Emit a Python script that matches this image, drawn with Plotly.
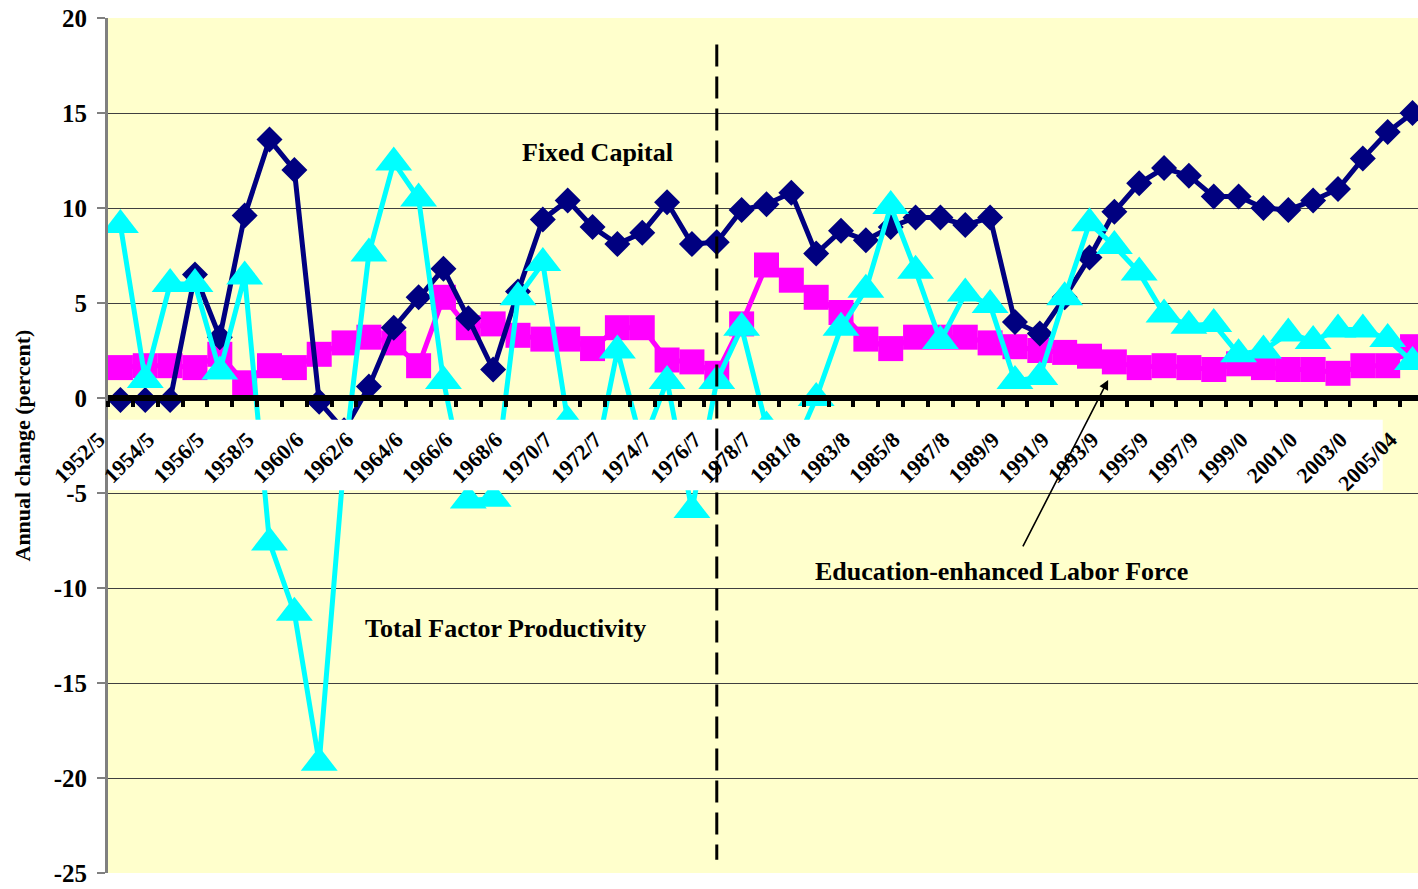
import plotly.graph_objects as go

# ---------------- data ----------------
categories = [
    "1952/53", "1953/54", "1954/55", "1955/56", "1956/57", "1957/58", "1958/59",
    "1959/60", "1960/61", "1961/62", "1962/63", "1963/64", "1964/65", "1965/66",
    "1966/67", "1967/68", "1968/69", "1969/70", "1970/71", "1971/72", "1972/73",
    "1973/74", "1974/75", "1975/76", "1976/77", "1977/78", "1978/79", "1979/80",
    "1981/82", "1982/83", "1983/84", "1984/85", "1985/86", "1986/87", "1987/88",
    "1988/89", "1989/90", "1990/91", "1991/92", "1992/93", "1993/94", "1994/95",
    "1995/96", "1996/97", "1997/98", "1998/99", "1999/00", "2000/01", "2001/02",
    "2002/03", "2003/04", "2004/05", "2005/06",
]

# labels shown on the axis (every other category, as they appear clipped)
tick_labels = [
    "1952/5", "1954/5", "1956/5", "1958/5", "1960/6", "1962/6", "1964/6",
    "1966/6", "1968/6", "1970/7", "1972/7", "1974/7", "1976/7", "1978/7",
    "1981/8", "1983/8", "1985/8", "1987/8", "1989/9", "1991/9", "1993/9",
    "1995/9", "1997/9", "1999/0", "2001/0", "2003/0", "2005/04",
]

fixed_capital = [
    -0.1, -0.1, -0.1, 6.5, 3.2, 9.6, 13.6, 12.0, -0.2, -1.7, 0.6, 3.7, 5.3,
    6.8, 4.2, 1.5, 5.6, 9.4, 10.4, 9.0, 8.1, 8.7, 10.3, 8.1, 8.2,
    9.9, 10.2, 10.8, 7.6, 8.8, 8.3, 9.0, 9.5, 9.5, 9.1, 9.5, 4.0, 3.4,
    5.3, 7.4, 9.8, 11.3, 12.1, 11.7, 10.6, 10.6, 10.0, 9.9, 10.4, 11.0, 12.6, 14.0, 15.0,
]

labor_force = [
    1.6, 1.7, 1.7, 1.6, 2.3, 0.8, 1.7, 1.6, 2.3, 2.9, 3.2, 2.9, 1.7,
    5.3, 3.7, 3.9, 3.3, 3.1, 3.1, 2.6, 3.7, 3.7, 2.0, 1.9, 1.3,
    3.9, 7.0, 6.2, 5.3, 4.5, 3.1, 2.6, 3.2, 3.2, 3.2, 2.9, 2.7, 2.5,
    2.4, 2.2, 1.9, 1.6, 1.7, 1.6, 1.5, 1.8, 1.6, 1.5, 1.5, 1.3, 1.7, 1.7, 2.7,
]

tfp = [
    9.1, 0.95, 6.0, 6.0, 1.4, 6.4, -7.6, -11.3, -19.2, -3.3, 7.6, 12.4, 10.5,
    0.9, -5.4, -5.3, 5.3, 7.1, -1.2, -4.0, 2.5, -2.5, 0.9, -5.9, 0.9,
    3.7, -1.5, -3.0, 0.0, 3.7, 5.7, 10.1, 6.7, 3.0, 5.5, 4.9, 0.9, 1.1,
    5.3, 9.2, 8.0, 6.6, 4.4, 3.8, 3.9, 2.3, 2.5, 3.4, 3.0, 3.6, 3.6, 3.1, 1.9,
]

y_ticks = [20, 15, 10, 5, 0, -5, -10, -15, -20, -25]
break_category = "1976/77"

# ---------------- styling ----------------
NAVY = "#000080"
MAGENTA = "#FF00FF"
CYAN = "#00FFFF"
BG = "#FFFFCC"
FONT = "Liberation Serif"

W, H = 1418, 889
ML, MR, MT, MB = 108, 0, 18, 16
X_RANGE = [-0.5, 52.22]
Y_RANGE = [-25, 20]

fig = go.Figure()

fig.add_trace(go.Scatter(
    x=categories, y=labor_force, mode="lines+markers",
    name="Education-enhanced Labor Force",
    line=dict(color=MAGENTA, width=5),
    marker=dict(symbol="square", size=25, color=MAGENTA, line=dict(width=0)),
))
fig.add_trace(go.Scatter(
    x=categories, y=fixed_capital, mode="lines+markers",
    name="Fixed Capital",
    line=dict(color=NAVY, width=5),
    marker=dict(symbol="diamond", size=20, color=NAVY, line=dict(width=0)),
))
fig.add_trace(go.Scatter(
    x=categories, y=tfp, mode="lines+markers",
    name="Total Factor Productivity",
    line=dict(color=CYAN, width=5),
    marker=dict(symbol="triangle-up", size=32, color=CYAN, line=dict(width=0)),
))

# white background strip behind the category labels (drawn above the lines)
fig.add_trace(go.Scatter(
    x=[-0.5, 50.8, 50.8, -0.5, -0.5], y=[-1.15, -1.15, -4.85, -4.85, -1.15],
    xaxis="x2", yaxis="y", mode="lines", fill="toself",
    fillcolor="white", line=dict(width=0, color="white"),
    hoverinfo="skip", showlegend=False,
))

break_idx = categories.index(break_category)

fig.update_layout(
    width=W, height=H,
    margin=dict(l=ML, r=MR, t=MT, b=MB, pad=0),
    paper_bgcolor="white",
    plot_bgcolor=BG,
    showlegend=False,
    font=dict(family=FONT, color="black"),
    xaxis=dict(
        type="category",
        range=X_RANGE,
        tickmode="array",
        tickvals=categories,
        ticktext=[tick_labels[i // 2] if i % 2 == 0 else "" for i in range(len(categories))],
        tickson="boundaries",
        ticks="outside", ticklen=6, tickwidth=4, tickcolor="black",
        showline=True, linecolor="black", linewidth=6,
        showgrid=False, zeroline=False,
        anchor="free", position=(0 - Y_RANGE[0]) / (Y_RANGE[1] - Y_RANGE[0]),
        tickangle=-45,
        tickfont=dict(family=FONT, size=22, color="black", weight="bold"),
        ticklabelshift=-22,
        ticklabelstandoff=17,
        layer="above traces",
    ),
    xaxis2=dict(
        type="linear", range=X_RANGE, overlaying="x", visible=False,
        anchor="y",
    ),
    yaxis=dict(
        range=Y_RANGE,
        tickmode="array", tickvals=y_ticks, ticktext=[str(v) for v in y_ticks],
        showgrid=True, gridcolor="#404040", gridwidth=1,
        zeroline=False,
        showline=True, linecolor="#808080", linewidth=3,
        ticks="outside", ticklen=8, tickwidth=2, tickcolor="#808080",
        tickfont=dict(family=FONT, size=25, color="black", weight="bold"),
        ticklabelstandoff=5,
    ),
)

# vertical dashed break line
fig.add_shape(
    type="line", xref="x2", yref="y",
    x0=break_idx, x1=break_idx, y0=18.6, y1=-24.3,
    line=dict(color="black", width=3, dash="22px,10px"),
    layer="above",
)

ann_font = dict(family=FONT, size=26, color="black", weight="bold")
fig.add_annotation(x=19.2, y=12.9, xref="x2", yref="y", text="Fixed Capital",
                   showarrow=False, font=ann_font)
fig.add_annotation(x=15.5, y=-12.15, xref="x2", yref="y", text="Total Factor Productivity",
                   showarrow=False, font=ann_font)
fig.add_annotation(x=35.45, y=-9.15, xref="x2", yref="y", text="Education-enhanced Labor Force",
                   showarrow=False, font=ann_font)
# arrow pointing to the labor-force line
fig.add_annotation(x=39.75, y=0.95, xref="x2", yref="y", text="",
                   showarrow=True, ax=-86, ay=168, axref="pixel", ayref="pixel",
                   arrowhead=2, arrowsize=1.2, arrowwidth=1.6, arrowcolor="black")

# y-axis title
fig.add_annotation(x=(22 - ML) / (W - ML - MR), y=0.5, xref="paper", yref="paper",
                   text="Annual change (percent)", textangle=-90, showarrow=False,
                   font=dict(family=FONT, size=22, color="black", weight="bold"),
                   xanchor="center", yanchor="middle")

fig.write_html("out.html", config={"displayModeBar": False},
               post_script="document.body.style.margin='0px';document.body.style.overflow='hidden';")
